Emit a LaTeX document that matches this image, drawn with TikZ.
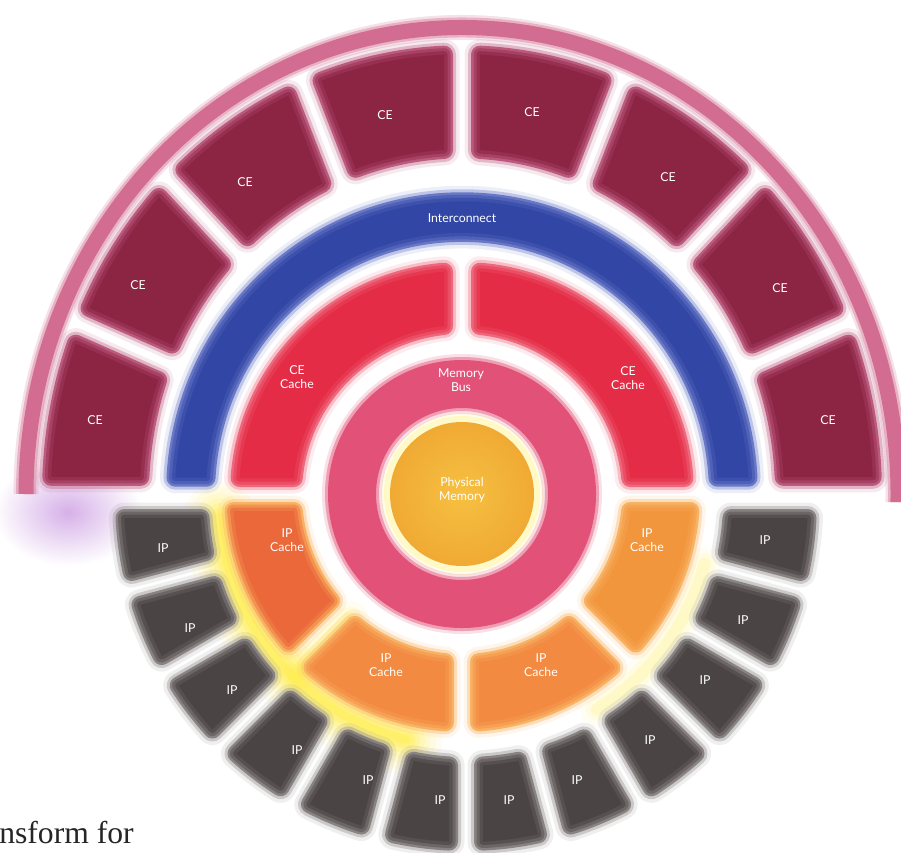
\documentclass[tikz,border=0pt]{standalone}
\usepackage{fontspec}
\setmainfont{Liberation Serif}
\newfontfamily\lblfont{Lato}
\definecolor{ceC}{RGB}{140,36,68}
\definecolor{ceE}{RGB}{188,90,126}
\definecolor{pinkarc}{RGB}{210,108,144}
\definecolor{blueI}{RGB}{50,70,166}
\definecolor{blueE}{RGB}{104,120,198}
\definecolor{cacheR}{RGB}{228,44,70}
\definecolor{cacheE}{RGB}{238,104,124}
\definecolor{busP}{RGB}{226,82,120}
\definecolor{memO}{RGB}{240,170,52}
\definecolor{memY}{RGB}{246,192,66}
\definecolor{ipC}{RGB}{74,68,68}
\definecolor{ipE}{RGB}{136,130,130}
\definecolor{ipcA}{RGB}{234,104,58}
\definecolor{ipcB}{RGB}{242,138,66}
\definecolor{ipcC}{RGB}{242,150,62}
\definecolor{ipcE}{RGB}{248,178,98}
\definecolor{glowY}{RGB}{255,238,70}
\definecolor{glowP}{RGB}{214,176,232}
% annular segment with rounded corners made by an inset path and round-joined strokes
% #1 start angle, #2 end angle, #3 inner r, #4 outer r,
% #5 half gap at start, #6 half gap at end, #7 style ; \rsd = corner radius
\def\rsd{9}
\newcommand\ringseg[7]{%
  \pgfmathsetmacro\rsA{#1+asin((#5+\rsd)/(#3+\rsd))}%
  \pgfmathsetmacro\rsB{#2-asin((#6+\rsd)/(#3+\rsd))}%
  \pgfmathsetmacro\rsC{#1+asin((#5+\rsd)/(#4-\rsd))}%
  \pgfmathsetmacro\rsD{#2-asin((#6+\rsd)/(#4-\rsd))}%
  \pgfmathsetmacro\rsI{#3+\rsd}%
  \pgfmathsetmacro\rsO{#4-\rsd}%
  \path[#7] (\rsA:\rsI) -- (\rsC:\rsO) arc[start angle=\rsC, end angle=\rsD, radius=\rsO]
    -- (\rsB:\rsI) arc[start angle=\rsB, end angle=\rsA, radius=\rsI] -- cycle;}
\begin{document}
\begin{tikzpicture}[x=0.02cm,y=0.02cm, line join=round,
  lbl/.style={text=white, font=\lblfont\fontsize{7}{7.6}\selectfont, align=center, inner sep=0pt},
  soft/.style 2 args={
     preaction={draw=#2, draw opacity=0.12, line width=0.62cm},
     preaction={draw=#2, draw opacity=0.35, line width=0.48cm},
     preaction={draw=#2, line width=0.36cm},
     preaction={draw=#1!45!#2, line width=0.26cm},
     preaction={draw=#1!80!#2, line width=0.14cm},
     fill=#1}]
\useasboundingbox (0,0) rectangle (901,-852);
\fill[white] (0,0) rectangle (901,-852);

% ---------- glows ----------
\begin{scope}[shift={(466,-500)}]
  \foreach \w/\o in {72/0.07,60/0.09,48/0.12,38/0.16,28/0.22,18/0.3,9/0.4}
    \draw[glowY, line width=\w*0.02cm, opacity=\o, line cap=round] (184:247) arc[start angle=184, end angle=256, radius=247];
  \foreach \w/\o in {40/0.08,28/0.14,18/0.22,10/0.32}
    \draw[glowY, line width=\w*0.02cm, opacity=\o, line cap=round] (226:168) -- (226:245);
  \foreach \w/\o in {34/0.06,22/0.1,12/0.16}
    \draw[glowY, line width=\w*0.02cm, opacity=\o, line cap=round] (302:247) arc[start angle=302, end angle=345, radius=247];
\end{scope}
\shade[inner color=glowP, outer color=white] (68,-512) ellipse[x radius=74, y radius=54];
\foreach \w/\o in {12/0.12,6/0.2}
  \draw[glowY, line width=\w*0.02cm, opacity=\o] (462,-494) circle[radius=75];

% ---------- outer pink arc and CE ring ----------
\begin{scope}[shift={(462,-494)}, yscale=1.07]
  \draw[pinkarc, line width=0.5cm, opacity=0.2] (-1:436) arc[start angle=-1, end angle=180, radius=436];
  \draw[pinkarc, line width=0.4cm, opacity=0.4] (-1:436) arc[start angle=-1, end angle=180, radius=436];
  \draw[pinkarc, line width=0.3cm] (-1:436) arc[start angle=-1, end angle=180, radius=436];
  \foreach \k in {0,...,7}{
    \pgfmathsetmacro\ga{\k==0 ? 7 : 9}
    \pgfmathsetmacro\gb{\k==7 ? 7 : 9}
    \ringseg{\k*22.5}{\k*22.5+22.5}{313}{420}{\ga}{\gb}{soft={ceC}{ceE}}
  }
\end{scope}

% ---------- interconnect ----------
\begin{scope}[shift={(462,-494)}, yscale=1.02]
  \ringseg{0}{180}{247}{296}{7}{7}{soft={blueI}{blueE}}
\end{scope}

% ---------- caches ----------
\begin{scope}[shift={(462,-494)}]
  \ringseg{0}{90}{160}{232}{7}{9}{soft={cacheR}{cacheE}}
  \ringseg{90}{180}{160}{232}{9}{7}{soft={cacheR}{cacheE}}
  \ringseg{180}{225}{160}{238}{8}{8}{soft={ipcA}{ipcE}}
  \ringseg{225}{270}{160}{238}{8}{8}{soft={ipcB}{ipcE}}
  \ringseg{270}{315}{160}{238}{8}{8}{soft={ipcB}{ipcE}}
  \ringseg{315}{360}{160}{238}{8}{8}{soft={ipcC}{ipcE}}
  % memory bus
  \fill[busP, opacity=0.18, even odd rule] (0,0) circle[radius=140] (0,0) circle[radius=80];
  \fill[busP, opacity=0.45, even odd rule] (0,0) circle[radius=137] (0,0) circle[radius=83];
  \fill[busP, even odd rule] (0,0) circle[radius=134] (0,0) circle[radius=86];
  % physical memory
  \shade[inner color=memY, outer color=memO] (0,0) circle[radius=72];
\end{scope}

% ---------- IP ring ----------
\begin{scope}[shift={(466,-500)}]
  \foreach \k in {0,...,11}{
    \pgfmathsetmacro\ga{\k==0 ? 9 : 8}
    \pgfmathsetmacro\gb{\k==11 ? 9 : 8}
    \ringseg{180+\k*15}{195+\k*15}{257}{351}{\ga}{\gb}{soft={ipC}{ipE}}
  }
\end{scope}

% ---------- labels ----------
\node[lbl] (ce1) at (95,-420) {CE};
\node[lbl] (ce2) at (138,-285) {CE};
\node[lbl] (ce3) at (245,-182) {CE};
\node[lbl] (ce4) at (385,-115) {CE};
\node[lbl] (ce5) at (532,-112) {CE};
\node[lbl] (ce6) at (668,-177) {CE};
\node[lbl] (ce7) at (780,-288) {CE};
\node[lbl] (ce8) at (828,-420) {CE};
\node[lbl] (inter) at (462,-218) {Interconnect};
\node[lbl] (cec1) at (297,-377) {CE\\Cache};
\node[lbl] (cec2) at (628,-378) {CE\\Cache};
\node[lbl] (bus) at (461,-380) {Memory\\Bus};
\node[lbl] (mem) at (462,-490) {Physical\\Memory};
\node[lbl] (ipc1) at (287,-540) {IP\\Cache};
\node[lbl] (ipc2) at (386,-665) {IP\\Cache};
\node[lbl] (ipc3) at (541,-665) {IP\\Cache};
\node[lbl] (ipc4) at (647,-540) {IP\\Cache};
\node[lbl] (ip1) at (163,-548) {IP};
\node[lbl] (ip2) at (190,-628) {IP};
\node[lbl] (ip3) at (232,-690) {IP};
\node[lbl] (ip4) at (297,-750) {IP};
\node[lbl] (ip5) at (368,-780) {IP};
\node[lbl] (ip6) at (440,-800) {IP};
\node[lbl] (ip7) at (509,-800) {IP};
\node[lbl] (ip8) at (577,-780) {IP};
\node[lbl] (ip9) at (650,-740) {IP};
\node[lbl] (ip10) at (705,-680) {IP};
\node[lbl] (ip11) at (743,-620) {IP};
\node[lbl] (ip12) at (765,-540) {IP};
\node[anchor=base west, inner sep=0pt, font=\fontsize{18}{20}\selectfont, text=black!85] (cap) at (-1,-843) {nsform for};
\end{tikzpicture}
\end{document}
